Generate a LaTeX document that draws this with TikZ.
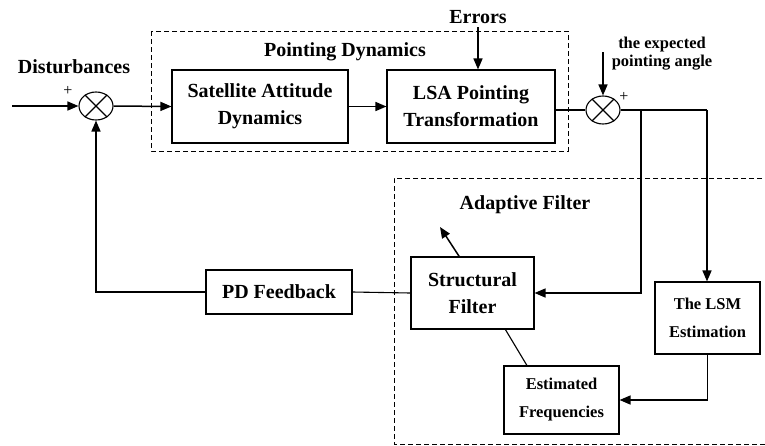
\documentclass[tikz,border=0pt]{standalone}
\usepackage{fontspec}
\setmainfont{Liberation Serif}
\usetikzlibrary{arrows.meta,shapes.geometric}

\begin{document}
\begin{tikzpicture}[x=1pt,y=-1pt,
    blk/.style={draw, line width=1.1pt, align=center, inner sep=0pt,
      font=\bfseries\fontsize{20}{27}\selectfont},
    smallblk/.style={blk, font=\bfseries\fontsize{16.5}{28}\selectfont},
    lbl/.style={align=center, font=\bfseries\fontsize{20}{24}\selectfont},
    sumnode/.style={draw, ellipse, line width=1.1pt, inner sep=0pt,
      minimum width=34pt, minimum height=28pt},
    sgn/.style={font=\fontsize{16}{16}\selectfont, inner sep=0pt},
    grp/.style={line width=0.9pt, dash pattern=on 5pt off 3pt},
    sig/.style={line width=1.1pt},
    arr/.style={line width=1.5pt, -{Triangle[length=11pt,width=9pt]}}]
  \useasboundingbox (0,0) rectangle (765,445);

  % dashed groups
  \draw[grp] (151,31) rectangle (568,151);
  \draw[grp] (770,178) -- (394,178) -- (394,444) -- (770,444);

  % summing points
  \node[sumnode] (sumA) at (96,106) {};
  \draw[line width=1.1pt] (sumA.45) -- (sumA.225) (sumA.135) -- (sumA.315);
  \node[sumnode] (sumB) at (603,110) {};
  \draw[line width=1.1pt] (sumB.45) -- (sumB.225) (sumB.135) -- (sumB.315);
  \node[sgn] (plusA) at (68,91) {+};
  \node[sgn] (plusB) at (624,97) {+};

  % blocks
  \node[blk, minimum width=176pt, minimum height=73pt] (sat) at (260,106.5) {Satellite Attitude\\Dynamics};
  \node[blk, minimum width=168pt, minimum height=73pt] (lsa) at (471,106.5) {LSA Pointing\\Transformation};
  \node[blk, minimum width=146pt, minimum height=44pt] (pd) at (279,292) {PD Feedback};
  \node[blk, minimum width=123pt, minimum height=72pt] (sf) at (472.5,293) {Structural\\Filter};
  \node[smallblk, minimum width=115pt, minimum height=68pt] (ef) at (561.5,400) {Estimated\\Frequencies};
  \node[smallblk, minimum width=105pt, minimum height=72pt] (lsm) at (707.5,318) {The LSM\\Estimation};

  % labels
  \node[lbl] (dist) at (74,67) {Disturbances};
  \node[lbl] (pdyn) at (345,52) {Pointing Dynamics};
  \node[lbl] (err) at (478,17) {Errors};
  \node[lbl, font=\bfseries\fontsize{16.5}{18}\selectfont] (expa) at (662,54) {the expected\\pointing angle};
  \node[lbl] (adf) at (525,205) {Adaptive Filter};

  % free ends and branch points
  \coordinate (in) at (12,106);
  \coordinate (expin) at (603,52);
  \coordinate (brA) at (641,110);
  \coordinate (brB) at (707,110);
  \coordinate (sfout) at (440,227);

  % connectors
  \draw[arr] (in) -- (sumA.west);
  \draw[arr] (sumA.east) -- (sat.west);
  \draw[arr] (sat.east) -- (lsa.west);
  \draw[arr] (err.south) -- (err.south |- lsa.north);
  \draw[sig] (lsa.east |- sumB.west) -- (sumB.west);
  \draw[arr] (expin) -- (sumB.north);
  \draw[sig] (sumB.east) -- (brB);
  \draw[arr] (brB) -- (brB |- lsm.north);
  \draw[arr] (brA) |- (sf.east);
  \draw[arr] (lsm.south) |- (ef.east);
  \draw[sig] (ef.135) -- (sf.-48);
  \draw[arr] (sf.110) -- (sfout);
  \draw[sig] (sf.west) -- (pd.east);
  \draw[arr] (pd.west) -| (sumA.south);
\end{tikzpicture}
\end{document}
